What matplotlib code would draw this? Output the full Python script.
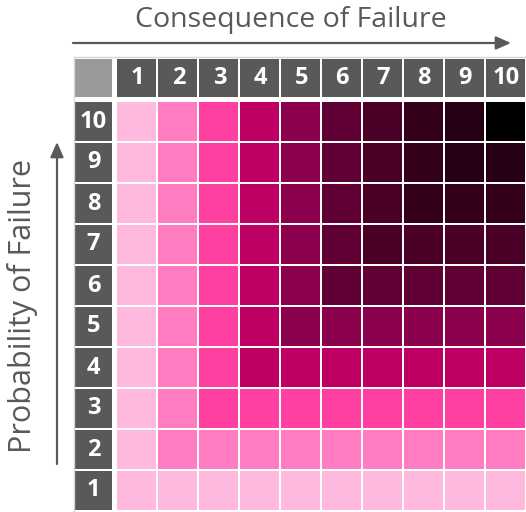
import matplotlib
matplotlib.use("Agg")
import matplotlib.pyplot as plt
from matplotlib.patches import Rectangle, FancyArrowPatch

# risk levels: cell level = min(probability, consequence)
consequence = list(range(1, 11))
probability = list(range(1, 11))
level_colors = ["#FFB8DE", "#FF7DC0", "#FF40A0", "#BE0064", "#8B004C",
                "#600034", "#4C0028", "#34001C", "#260014", "#000000"]
x_title = "Consequence of Failure"
y_title = "Probability of Failure"

HEAD = "#595959"
CORNER = "#9A9A9A"
FONT = "Open Sans"

W, H = 526, 512
fig = plt.figure(figsize=(W / 100, H / 100), dpi=100)

# grid axes: one data unit = one 41 px cell pitch
ax = fig.add_axes([116 / W, 1 / H, 410 / W, 410 / H])
ax.set_xlim(0.5, 10.5)
ax.set_ylim(0.5, 10.5)
ax.axis("off")

g = 1 / 41
s = 1 - 2 * g
for p in probability:
    for c in consequence:
        lvl = min(p, c)
        ax.add_patch(Rectangle((c - 0.5 + g, p - 0.5 + g), s, s,
                               facecolor=level_colors[lvl - 1], edgecolor="none"))

# column headers
hy0, hh = 10.5 + 4 / 41, 38 / 41
for c in consequence:
    ax.add_patch(Rectangle((c - 0.5 + g, hy0), s, hh, facecolor=HEAD,
                           edgecolor="none", clip_on=False))
    ax.text(c + 0.02, hy0 + hh / 2, str(c), color="white", fontsize=17,
            fontweight="bold", family=FONT, ha="center", va="center",
            clip_on=False)

# row headers
hx0, hw = -0.5, 37 / 41
for p in probability:
    ax.add_patch(Rectangle((hx0, p - 0.5 + g), hw, s, facecolor=HEAD,
                           edgecolor="none", clip_on=False))
    ax.text(hx0 + hw / 2, p, str(p), color="white", fontsize=17,
            fontweight="bold", family=FONT, ha="center", va="center",
            clip_on=False)

# corner cell and thin outer frame
ax.add_patch(Rectangle((hx0, hy0), hw, hh, facecolor=CORNER,
                       edgecolor="none", clip_on=False))
ax.plot([hx0 - 1.5 / 41, hx0 - 1.5 / 41, 10.6], [0.4, hy0 + hh + 1.5 / 41, hy0 + hh + 1.5 / 41],
        color="#D6D6D6", lw=1, clip_on=False)

# axis titles and arrows
fig.text(291 / W, 1 - 20 / H, x_title, color=HEAD, fontsize=20.5, family=FONT,
         ha="center", va="center")
fig.text(23 / W, 1 - 306 / H, y_title, color=HEAD, fontsize=22, family=FONT,
         ha="center", va="center", rotation=90)

arrow = dict(arrowstyle="-|>,head_length=0.5,head_width=0.22", color=HEAD, lw=1.6,
             shrinkA=0, shrinkB=0)
fig.add_artist(FancyArrowPatch(
    (73 / W, 1 - 43 / H), (511 / W, 1 - 43 / H), transform=fig.transFigure,
    mutation_scale=18, **arrow))
fig.add_artist(FancyArrowPatch(
    (57 / W, 1 - 464 / H), (57 / W, 1 - 142 / H), transform=fig.transFigure,
    mutation_scale=18, **arrow))

fig.savefig("out.png", dpi=100)
